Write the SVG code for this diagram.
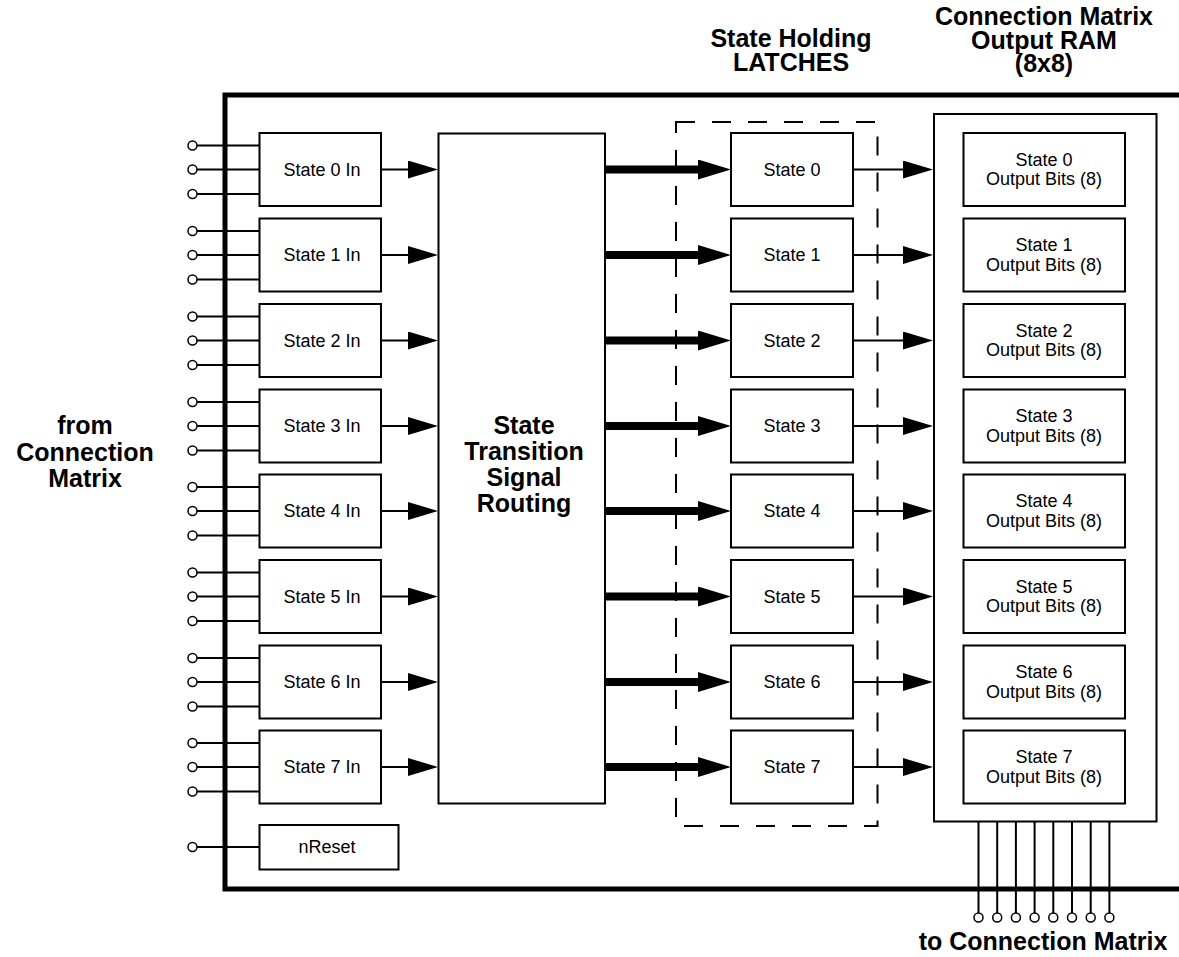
<svg xmlns="http://www.w3.org/2000/svg" width="1179" height="957" viewBox="0 0 1179 957">
<style>
  .box { fill: #fff; stroke: #000; stroke-width: 2; }
  .wire { stroke: #000; stroke-width: 2; fill: none; }
  .thick { stroke: #000; stroke-width: 8; fill: none; }
  .pin { fill: #fff; stroke: #000; stroke-width: 1.5; }
  .border { stroke: #000; stroke-width: 5; fill: none; }
  .dash { fill: none; stroke: #000; stroke-width: 2; stroke-dasharray: 19 17; }
  .t { font-family: "Liberation Sans", Arial, sans-serif; font-size: 18px; fill: #000; text-anchor: middle; }
  .b { font-family: "Liberation Sans", Arial, sans-serif; font-size: 25px; font-weight: bold; fill: #000; text-anchor: middle; }
</style>
<defs>
  <marker id="ah" viewBox="0 0 30 18" refX="2" refY="9" markerWidth="30" markerHeight="18" markerUnits="userSpaceOnUse" orient="auto">
    <path d="M0,0 L30,9 L0,18 Z" fill="#000"/>
  </marker>
  <marker id="ahT" viewBox="0 0 33 20" refX="2" refY="10" markerWidth="33" markerHeight="20" markerUnits="userSpaceOnUse" orient="auto">
    <path d="M0,0 L33,10 L0,20 Z" fill="#000"/>
  </marker>
</defs>
<rect width="1179" height="957" fill="#fff"/>

<!-- chip border -->
<g id="chip-border">
  <path class="border" d="M1179,95 L225,95 L225,889 L1179,889"/>
</g>

<!-- titles -->
<g id="labels">
  <text class="b" x="85" y="434">from</text>
  <text class="b" x="85" y="461">Connection</text>
  <text class="b" x="85" y="487">Matrix</text>
  <text class="b" x="791" y="47">State Holding</text>
  <text class="b" x="791" y="71">LATCHES</text>
  <text class="b" x="1044" y="24.5">Connection Matrix</text>
  <text class="b" x="1044" y="48.5">Output RAM</text>
  <text class="b" x="1044" y="72">(8x8)</text>
  <text class="b" x="1043" y="950">to Connection Matrix</text>
</g>

<!-- connectors -->
<g id="connectors">
  <!-- input pins -->
  <g id="input-wires">
    <path class="wire" d="M197,145.5H259M197,169.5H259M197,194H259
      M197,231H259M197,255H259M197,279.5H259
      M197,316.5H259M197,340.5H259M197,365H259
      M197,402H259M197,426H259M197,450.5H259
      M197,487H259M197,511H259M197,535.5H259
      M197,572.5H259M197,596.5H259M197,621H259
      M197,658H259M197,682H259M197,706.5H259
      M197,743H259M197,767H259M197,791.5H259
      M197,847H259"/>
    <g class="pin">
      <circle cx="192.5" cy="145.5" r="4.5"/><circle cx="192.5" cy="169.5" r="4.5"/><circle cx="192.5" cy="194" r="4.5"/>
      <circle cx="192.5" cy="231" r="4.5"/><circle cx="192.5" cy="255" r="4.5"/><circle cx="192.5" cy="279.5" r="4.5"/>
      <circle cx="192.5" cy="316.5" r="4.5"/><circle cx="192.5" cy="340.5" r="4.5"/><circle cx="192.5" cy="365" r="4.5"/>
      <circle cx="192.5" cy="402" r="4.5"/><circle cx="192.5" cy="426" r="4.5"/><circle cx="192.5" cy="450.5" r="4.5"/>
      <circle cx="192.5" cy="487" r="4.5"/><circle cx="192.5" cy="511" r="4.5"/><circle cx="192.5" cy="535.5" r="4.5"/>
      <circle cx="192.5" cy="572.5" r="4.5"/><circle cx="192.5" cy="596.5" r="4.5"/><circle cx="192.5" cy="621" r="4.5"/>
      <circle cx="192.5" cy="658" r="4.5"/><circle cx="192.5" cy="682" r="4.5"/><circle cx="192.5" cy="706.5" r="4.5"/>
      <circle cx="192.5" cy="743" r="4.5"/><circle cx="192.5" cy="767" r="4.5"/><circle cx="192.5" cy="791.5" r="4.5"/>
      <circle cx="192.5" cy="847" r="4.5"/>
    </g>
  </g>
  <!-- input box to routing -->
  <g id="in-arrows" class="wire" marker-end="url(#ah)">
    <path d="M381,169.5H410" marker-end="url(#ah)"/>
    <path d="M381,255H410" marker-end="url(#ah)"/>
    <path d="M381,340.5H410" marker-end="url(#ah)"/>
    <path d="M381,426H410" marker-end="url(#ah)"/>
    <path d="M381,511H410" marker-end="url(#ah)"/>
    <path d="M381,596.5H410" marker-end="url(#ah)"/>
    <path d="M381,682H410" marker-end="url(#ah)"/>
    <path d="M381,767H410" marker-end="url(#ah)"/>
  </g>
  <!-- routing to latches (thick) -->
  <g id="bus-arrows" class="thick">
    <path d="M605,169.5H700" marker-end="url(#ahT)"/>
    <path d="M605,255H700" marker-end="url(#ahT)"/>
    <path d="M605,340.5H700" marker-end="url(#ahT)"/>
    <path d="M605,426H700" marker-end="url(#ahT)"/>
    <path d="M605,511H700" marker-end="url(#ahT)"/>
    <path d="M605,596.5H700" marker-end="url(#ahT)"/>
    <path d="M605,682H700" marker-end="url(#ahT)"/>
    <path d="M605,767H700" marker-end="url(#ahT)"/>
  </g>
  <!-- latches to RAM -->
  <g id="out-arrows" class="wire">
    <path d="M853,169.5H905" marker-end="url(#ah)"/>
    <path d="M853,255H905" marker-end="url(#ah)"/>
    <path d="M853,340.5H905" marker-end="url(#ah)"/>
    <path d="M853,426H905" marker-end="url(#ah)"/>
    <path d="M853,511H905" marker-end="url(#ah)"/>
    <path d="M853,596.5H905" marker-end="url(#ah)"/>
    <path d="M853,682H905" marker-end="url(#ah)"/>
    <path d="M853,767H905" marker-end="url(#ah)"/>
  </g>
  <!-- output bits -->
  <g id="output-wires">
    <path class="wire" d="M978.5,803V913M997.2,803V913M1015.9,803V913M1034.6,803V913M1053.3,803V913M1072,803V913M1090.7,803V913M1109.4,803V913"/>
    <g class="pin">
      <circle cx="978.5" cy="917.5" r="4.5"/><circle cx="997.2" cy="917.5" r="4.5"/><circle cx="1015.9" cy="917.5" r="4.5"/><circle cx="1034.6" cy="917.5" r="4.5"/>
      <circle cx="1053.3" cy="917.5" r="4.5"/><circle cx="1072" cy="917.5" r="4.5"/><circle cx="1090.7" cy="917.5" r="4.5"/><circle cx="1109.4" cy="917.5" r="4.5"/>
    </g>
  </g>
</g>

<!-- input nodes -->
<g id="in0"><rect class="box" x="259.5" y="133" width="121.5" height="73"/><text class="t" x="322" y="175.5">State 0 In</text></g>
<g id="in1"><rect class="box" x="259.5" y="218.5" width="121.5" height="73"/><text class="t" x="322" y="261">State 1 In</text></g>
<g id="in2"><rect class="box" x="259.5" y="304" width="121.5" height="73"/><text class="t" x="322" y="346.5">State 2 In</text></g>
<g id="in3"><rect class="box" x="259.5" y="389.5" width="121.5" height="73"/><text class="t" x="322" y="432">State 3 In</text></g>
<g id="in4"><rect class="box" x="259.5" y="474.5" width="121.5" height="73"/><text class="t" x="322" y="517">State 4 In</text></g>
<g id="in5"><rect class="box" x="259.5" y="560" width="121.5" height="73"/><text class="t" x="322" y="602.5">State 5 In</text></g>
<g id="in6"><rect class="box" x="259.5" y="645.5" width="121.5" height="73"/><text class="t" x="322" y="688">State 6 In</text></g>
<g id="in7"><rect class="box" x="259.5" y="730.5" width="121.5" height="73"/><text class="t" x="322" y="773">State 7 In</text></g>
<g id="nreset"><rect class="box" x="259.5" y="825" width="139" height="44.5"/><text class="t" x="327" y="853">nReset</text></g>

<!-- routing -->
<g id="routing">
  <rect class="box" x="438.5" y="133.5" width="166.5" height="670"/>
  <text class="b" x="524" y="433.5">State</text>
  <text class="b" x="524" y="459.5">Transition</text>
  <text class="b" x="524" y="485.5">Signal</text>
  <text class="b" x="524" y="511.5">Routing</text>
</g>

<!-- latches -->
<g id="latches">
  <rect class="dash" x="676" y="122" width="201.5" height="704"/>
  <g id="latch0"><rect class="box" x="731" y="133" width="122" height="73"/><text class="t" x="792" y="175.5">State 0</text></g>
  <g id="latch1"><rect class="box" x="731" y="218.5" width="122" height="73"/><text class="t" x="792" y="261">State 1</text></g>
  <g id="latch2"><rect class="box" x="731" y="304" width="122" height="73"/><text class="t" x="792" y="346.5">State 2</text></g>
  <g id="latch3"><rect class="box" x="731" y="389.5" width="122" height="73"/><text class="t" x="792" y="432">State 3</text></g>
  <g id="latch4"><rect class="box" x="731" y="474.5" width="122" height="73"/><text class="t" x="792" y="517">State 4</text></g>
  <g id="latch5"><rect class="box" x="731" y="560" width="122" height="73"/><text class="t" x="792" y="602.5">State 5</text></g>
  <g id="latch6"><rect class="box" x="731" y="645.5" width="122" height="73"/><text class="t" x="792" y="688">State 6</text></g>
  <g id="latch7"><rect class="box" x="731" y="730.5" width="122" height="73"/><text class="t" x="792" y="773">State 7</text></g>
</g>

<!-- output RAM -->
<g id="ram">
  <rect class="box" x="934" y="114" width="222.5" height="707.5"/>
  <g id="out0"><rect class="box" x="963.5" y="133" width="161.5" height="73"/><text class="t" x="1044" y="165.5">State 0</text><text class="t" x="1044" y="185">Output Bits (8)</text></g>
  <g id="out1"><rect class="box" x="963.5" y="218.5" width="161.5" height="73"/><text class="t" x="1044" y="251">State 1</text><text class="t" x="1044" y="270.5">Output Bits (8)</text></g>
  <g id="out2"><rect class="box" x="963.5" y="304" width="161.5" height="73"/><text class="t" x="1044" y="336.5">State 2</text><text class="t" x="1044" y="356">Output Bits (8)</text></g>
  <g id="out3"><rect class="box" x="963.5" y="389.5" width="161.5" height="73"/><text class="t" x="1044" y="422">State 3</text><text class="t" x="1044" y="441.5">Output Bits (8)</text></g>
  <g id="out4"><rect class="box" x="963.5" y="474.5" width="161.5" height="73"/><text class="t" x="1044" y="507">State 4</text><text class="t" x="1044" y="526.5">Output Bits (8)</text></g>
  <g id="out5"><rect class="box" x="963.5" y="560" width="161.5" height="73"/><text class="t" x="1044" y="592.5">State 5</text><text class="t" x="1044" y="612">Output Bits (8)</text></g>
  <g id="out6"><rect class="box" x="963.5" y="645.5" width="161.5" height="73"/><text class="t" x="1044" y="678">State 6</text><text class="t" x="1044" y="697.5">Output Bits (8)</text></g>
  <g id="out7"><rect class="box" x="963.5" y="730.5" width="161.5" height="73"/><text class="t" x="1044" y="763">State 7</text><text class="t" x="1044" y="782.5">Output Bits (8)</text></g>
</g>
</svg>
